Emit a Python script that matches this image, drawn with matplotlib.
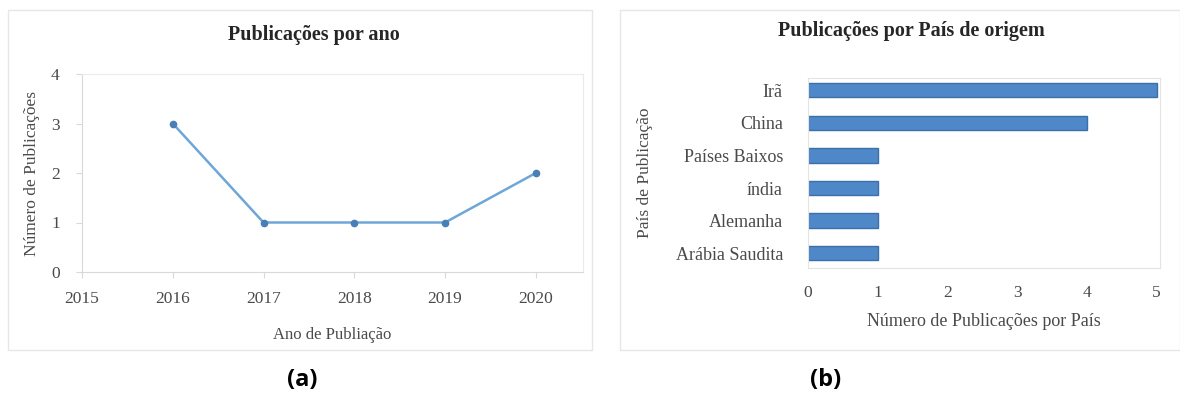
import matplotlib
matplotlib.use("Agg")
import matplotlib.pyplot as plt
from matplotlib.patches import Rectangle

# Publications per year
anos = [2016, 2017, 2018, 2019, 2020]
pub_ano = [3, 1, 1, 1, 2]
ano_ticks = [2015, 2016, 2017, 2018, 2019, 2020]
ano_yticks = [0, 1, 2, 3, 4]

# Publications per country of origin (bottom to top)
paises = ["Arábia Saudita", "Alemanha", "índia", "Países Baixos", "China", "Irã"]
pub_pais = [1, 1, 1, 1, 4, 5]
pais_xticks = [0, 1, 2, 3, 4, 5]

W, H = 1180, 394
fig = plt.figure(figsize=(W / 100, H / 100), dpi=100)
fig.patch.set_facecolor("white")

serif = "Liberation Serif"
txt = "#4a4a4a"
grid_c = "#d9d9d9"


def fx(px):
    return px / W


def fy(py):
    return 1 - py / H


# panel borders
for x0, y0, x1, y1 in [(8, 10, 592, 350), (620, 10, 1180, 350)]:
    fig.patches.append(Rectangle((fx(x0), fy(y1)), fx(x1) - fx(x0), fy(y0) - fy(y1),
                                 transform=fig.transFigure, fill=False,
                                 edgecolor="#e6e6e6", linewidth=1.0))

# ---- (a) line chart
ax1 = fig.add_axes([fx(82), fy(272), fx(583) - fx(82), fy(74) - fy(272)])
ax1.plot(anos, pub_ano, color="#6fa6d8", linewidth=1.8, marker="o",
         markersize=4.5, markerfacecolor="#4a7fb5", markeredgecolor="#4a7fb5")
ax1.set_xlim(2015, 2020.52)
ax1.set_ylim(0, 4)
ax1.set_xticks(ano_ticks)
ax1.set_yticks(ano_yticks)
ax1.set_xticklabels([str(a) for a in ano_ticks], fontfamily=serif, fontsize=12.5, color=txt)
ax1.set_yticklabels([str(v) for v in ano_yticks], fontfamily=serif, fontsize=12.5, color=txt)
for s in ax1.spines.values():
    s.set_color("#ebebeb")
ax1.spines["left"].set_color(grid_c)
ax1.spines["bottom"].set_color(grid_c)
ax1.tick_params(axis="both", color=grid_c, length=4, width=0.8)
ax1.tick_params(axis="x", pad=10)
ax1.tick_params(axis="y", pad=12)
ax1.set_xlabel("Ano de Publiação", fontfamily=serif, fontsize=12, color=txt, labelpad=14)
ax1.set_ylabel("Número de Publicações", fontfamily=serif, fontsize=12.5, color=txt, labelpad=8)
fig.text(fx(314), fy(35), "Publicações por ano", ha="center", va="center",
         fontfamily=serif, fontsize=14.5, fontweight="bold", color="#262626")

# ---- (b) horizontal bar chart
ax2 = fig.add_axes([fx(808), fy(268), fx(1160) - fx(808), fy(78) - fy(268)])
ypos = list(range(len(paises)))
ax2.barh(ypos, pub_pais, height=0.44, color="#4f88c8", edgecolor="#3b6fa8", linewidth=1.0)
ax2.set_xlim(0, 5.05)
ax2.set_ylim(-0.45, 5.37)
ax2.set_yticks(ypos)
ax2.set_yticklabels(paises, fontfamily=serif, fontsize=13, color=txt)
ax2.set_xticks(pais_xticks)
ax2.set_xticklabels([str(v) for v in pais_xticks], fontfamily=serif, fontsize=12.5, color=txt)
for s in ax2.spines.values():
    s.set_color("#e3e3e3")
ax2.tick_params(axis="both", length=0)
ax2.tick_params(axis="x", pad=12)
ax2.tick_params(axis="y", pad=18)
ax2.set_xlabel("Número de Publicações por País", fontfamily=serif, fontsize=13, color=txt, labelpad=9)
ax2.set_ylabel("País de Publicação", fontfamily=serif, fontsize=12.5, color=txt, labelpad=16)
fig.text(fx(911), fy(31), "Publicações por País de origem", ha="center", va="center",
         fontfamily=serif, fontsize=14.5, fontweight="bold", color="#262626")

# panel captions
fig.text(fx(302), fy(380), "(a)", ha="center", va="center",
         fontfamily="Open Sans", fontsize=17, fontweight="bold", color="black")
fig.text(fx(826), fy(380), "(b)", ha="center", va="center",
         fontfamily="Open Sans", fontsize=17, fontweight="bold", color="black")

fig.savefig("out.png", dpi=100, facecolor="white")
